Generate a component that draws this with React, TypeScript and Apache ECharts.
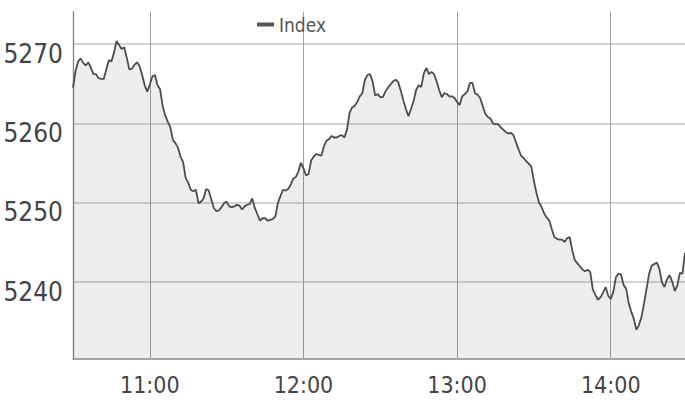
import React, { useEffect, useRef } from "react";
import * as echarts from "echarts";

const seriesName = "Index";
const startTime = "10:30";
const hourLabels = ["11:00", "12:00", "13:00", "14:00"];
const yTickValues = [5240, 5250, 5260, 5270];
const yRange = [5230.3, 5274.1];

// one value per minute from 10:30
const values = [
  5264.5, 5266.6, 5267.8, 5268.2, 5267.6, 5267.3, 5267.7, 5267.0, 5266.2, 5266.2,
  5265.7, 5265.6, 5265.6, 5266.8, 5268.0, 5267.8, 5268.9, 5270.4, 5269.9, 5269.4,
  5269.6, 5268.3, 5266.8, 5266.9, 5267.4, 5267.7, 5267.2, 5266.1, 5264.8, 5264.0,
  5264.9, 5265.9, 5266.1, 5264.8, 5264.3, 5262.2, 5261.0, 5260.2, 5259.5, 5257.9,
  5257.5, 5256.9, 5255.8, 5255.1, 5253.1, 5252.5, 5251.6, 5251.4, 5251.6, 5249.9,
  5250.1, 5250.5, 5251.7, 5251.5, 5250.4, 5249.3, 5248.9, 5249.0, 5249.4, 5249.9,
  5250.1, 5249.5, 5249.4, 5249.5, 5249.7, 5249.6, 5249.1, 5249.5, 5249.7, 5249.8,
  5250.5, 5249.3, 5248.5, 5247.7, 5248.0, 5248.0, 5247.7, 5247.8, 5247.9, 5248.2,
  5249.9, 5250.8, 5251.6, 5251.5, 5251.7, 5252.2, 5253.0, 5253.2, 5253.9, 5255.0,
  5254.3, 5253.4, 5253.6, 5255.3, 5255.8, 5256.1, 5256.0, 5255.9, 5257.1, 5257.8,
  5258.0, 5258.4, 5258.2, 5258.2, 5258.4, 5258.5, 5258.2, 5259.2, 5261.3, 5262.0,
  5262.2, 5262.7, 5263.4, 5263.8, 5265.5, 5266.1, 5266.2, 5265.3, 5263.5, 5263.7,
  5263.3, 5263.3, 5264.0, 5264.5, 5264.9, 5265.3, 5265.5, 5265.2, 5264.1, 5262.9,
  5261.8, 5260.9, 5261.8, 5262.8, 5264.2, 5264.8, 5264.6, 5266.3, 5267.0, 5266.2,
  5266.5, 5266.2, 5265.3, 5264.2, 5263.3, 5263.8, 5263.7, 5263.4, 5263.4, 5263.2,
  5262.7, 5262.3, 5263.4, 5263.7, 5264.0, 5265.1, 5265.1, 5263.8, 5263.6, 5263.2,
  5262.2, 5261.2, 5260.8, 5260.6, 5260.0, 5259.9, 5259.9, 5259.5, 5259.2, 5258.9,
  5258.7, 5258.8, 5258.5, 5257.6, 5256.7, 5255.9, 5255.6, 5255.2, 5254.9, 5254.5,
  5252.7, 5251.2, 5250.0, 5249.4, 5248.6, 5248.1, 5247.7, 5246.6, 5245.6, 5245.4,
  5245.3, 5245.3, 5245.0, 5245.5, 5245.6, 5243.9, 5242.7, 5242.3, 5241.9, 5241.5,
  5241.3, 5241.5, 5241.2, 5239.0, 5238.3, 5237.7, 5238.0, 5238.6, 5239.3, 5238.2,
  5237.8, 5238.7, 5240.5, 5241.0, 5240.9, 5239.6, 5239.1, 5237.3, 5236.2, 5235.3,
  5233.9, 5234.5, 5235.5, 5237.2, 5239.1, 5241.0, 5242.0, 5242.2, 5242.4, 5241.6,
  5239.9, 5239.3, 5240.3, 5240.8, 5240.0, 5238.8, 5239.5, 5241.1, 5241.0, 5243.6,
];

const [startH, startM] = startTime.split(":").map(Number);
const categories = values.map((_, i) => {
  const t = startH * 60 + startM + i;
  return `${Math.floor(t / 60)}:${String(t % 60).padStart(2, "0")}`;
});

const FONT = "'DejaVu Sans Condensed', 'Liberation Sans', Arial, sans-serif";

export default function App() {
  const ref = useRef<HTMLDivElement>(null);
  useEffect(() => {
    document.body.style.margin = "0";
    if (!ref.current) return;
    const chart = echarts.init(ref.current, null, { renderer: "svg" });
    const isHour = (_i: number, v: string) => hourLabels.includes(v);
    chart.setOption({
      animation: false,
      backgroundColor: "#fff",
      legend: {
        data: [seriesName],
        left: 257,
        top: 15,
        padding: 0,
        icon: "rect",
        itemWidth: 17,
        itemHeight: 4,
        textStyle: { fontSize: 19, color: "#555", fontFamily: FONT },
      },
      grid: { left: 73, right: 0, top: 11.7, bottom: 41.7, outerBoundsMode: "none", containLabel: false },
      xAxis: {
        type: "category",
        boundaryGap: false,
        data: categories,
        axisLine: { show: true, lineStyle: { color: "#888", width: 1.6 } },
        axisTick: { show: false },
        axisLabel: {
          interval: isHour,
          color: "#444",
          fontSize: 23,
          fontFamily: FONT,
          margin: 15,
        },
        splitLine: { show: true, interval: isHour, lineStyle: { color: "#a0a0a0", width: 1 } },
      },
      yAxis: {
        type: "value",
        min: yRange[0],
        max: yRange[1],
        splitNumber: 5,
        axisLine: { show: true, lineStyle: { color: "#888", width: 1.4 } },
        axisTick: { show: false },
        axisLabel: {
          color: "#444",
          fontSize: 26,
          fontFamily: FONT,
          margin: 10,
          showMinLabel: false,
          showMaxLabel: false,
          verticalAlign: "top",
          lineHeight: 20,
          formatter: (v: number) =>
            yTickValues.includes(Math.round(v)) && Math.abs(v - Math.round(v)) < 1e-6 ? String(Math.round(v)) : "",
        },
        splitLine: { show: true, showMinLine: false, showMaxLine: false, lineStyle: { color: "#c6c6c6", width: 1.7 } },
      },
      series: [
        {
          name: seriesName,
          type: "line",
          data: values,
          symbol: "none",
          color: "#555",
          lineStyle: { color: "#4d4d4d", width: 1.8 },
          areaStyle: { color: "rgba(0,0,0,0.1)" },
        },
      ],
    });
    return () => chart.dispose();
  }, []);
  return <div ref={ref} style={{ width: 685, height: 400 }} />;
}
